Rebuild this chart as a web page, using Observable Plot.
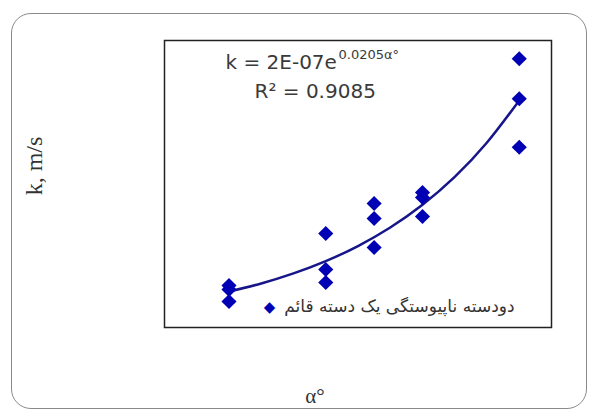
<!DOCTYPE html>
<html>
<head>
<meta charset="utf-8">
<script src="https://cdn.jsdelivr.net/npm/d3@7"></script>
<script src="https://cdn.jsdelivr.net/npm/@observablehq/plot@0.6"></script>
<style>
  html, body { margin: 0; padding: 0; background: #fff; }
  #wrap { position: relative; width: 589px; height: 410px; overflow: hidden; }
  #outer { position: absolute; left: 11px; top: 13px; width: 576px; height: 396px; box-sizing: border-box;
           border: 1.5px solid #8a8a8a; border-radius: 20px; }
  #chart { position: absolute; left: 0; top: 0; }
</style>
</head>
<body>
<div id="wrap"><div id="outer"></div><div id="chart"></div></div>
<script>
// α (degrees) of each measurement
const alphaDeg = [0, 0, 0, 30, 30, 30, 45, 45, 45, 60, 60, 60, 90, 90, 90];
// permeability k (m/s)
const kValues = [2.34e-7, 2.12e-7, 1.45e-7, 5.24e-7, 3.23e-7, 2.51e-7, 6.91e-7, 6.08e-7, 4.46e-7,
                 7.53e-7, 7.25e-7, 6.19e-7, 1.498e-6, 1.275e-6, 1.005e-6];
// exponential trendline coefficients shown on the chart: k = a·e^(b·α)
const trendA = 2e-7;
const trendB = 0.0205;
const trendAlpha = [0, 10, 20, 30, 40, 50, 60, 70, 80, 90];
const seriesName = "دودسته ناپیوستگی یک دسته قائم";
const eqMain = "k = 2E-07e";
const eqSup = "0.0205α°";
const r2Text = "R² = 0.9085";
const yLabel = "k, m/s";
const xLabel = "α°";

const points = alphaDeg.map((a, i) => ({a, k: kValues[i]}));
const trend = trendAlpha.map(a => ({a, k: trendA * Math.exp(trendB * a)}));

const blue = "#0000b4";
const sans = "DejaVu Sans, Arial, sans-serif";
const serif = "Liberation Serif, Times New Roman, serif";

const chart = Plot.plot({
  width: 589,
  height: 410,
  marginLeft: 164,
  marginRight: 38,
  marginTop: 40,
  marginBottom: 83,
  x: {domain: [-20, 100], axis: null},
  y: {domain: [0, 1.6e-6], axis: null},
  style: {background: "transparent"},
  marks: [
    Plot.frame({stroke: "#222", strokeWidth: 1.5}),
    Plot.line(trend, {x: "a", y: "k", stroke: "#16168a", strokeWidth: 2.5, curve: "natural"}),
    Plot.dot(points, {x: "a", y: "k", symbol: "diamond2", r: 6.8, fill: blue, stroke: "none"}),
    Plot.text([eqMain], {frameAnchor: "top-left", textAnchor: "start", lineAnchor: "bottom",
      dx: 61, dy: 28, fontSize: 20, fontFamily: sans, fill: "#3a3a3a"}),
    Plot.text([eqSup], {frameAnchor: "top-left", textAnchor: "start", lineAnchor: "bottom",
      dx: 174, dy: 18, fontSize: 13, fontFamily: sans, fill: "#3a3a3a"}),
    Plot.text([r2Text], {frameAnchor: "top-left", textAnchor: "start", lineAnchor: "bottom",
      dx: 90, dy: 57, fontSize: 20, fontFamily: sans, fill: "#3a3a3a"}),
    Plot.text(["◆"], {frameAnchor: "bottom-left", textAnchor: "middle", lineAnchor: "middle",
      dx: 105, dy: -20, fontSize: 15, fontFamily: sans, fill: blue}),
    Plot.text([seriesName], {frameAnchor: "bottom-left", textAnchor: "end", lineAnchor: "middle",
      dx: 350, dy: -21, fontSize: 17, fontFamily: sans, fill: "#333"}),
    Plot.text([yLabel], {frameAnchor: "left", textAnchor: "middle", lineAnchor: "middle", rotate: -90,
      dx: -130, dy: -18, fontSize: 24, fontFamily: serif, fill: "#333"}),
    Plot.text([xLabel], {frameAnchor: "bottom", textAnchor: "middle", lineAnchor: "middle",
      dx: -43, dy: 69, fontSize: 21, fontFamily: serif, fill: "#333"})
  ]
});
document.getElementById("chart").appendChild(chart);
</script>
</body>
</html>
